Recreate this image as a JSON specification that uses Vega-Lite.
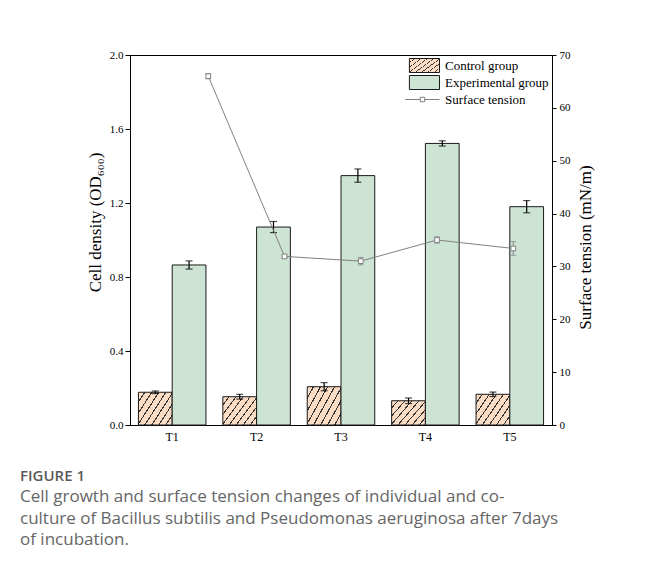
{
  "$schema": "https://vega.github.io/schema/vega-lite/v6.json",
  "width": 422,
  "height": 370,
  "autosize": {"type": "none"},
  "padding": {"left": 130, "top": 55, "right": 94, "bottom": 159},
  "background": "white",
  "config": {
    "view": {"stroke": "black", "strokeWidth": 1},
    "axis": {
      "labelFont": "Liberation Serif",
      "titleFont": "Liberation Serif",
      "labelFontSize": 11,
      "titleFontSize": 17,
      "titleFontWeight": "normal",
      "labelColor": "black",
      "titleColor": "black",
      "domainColor": "black",
      "tickColor": "black",
      "grid": false,
      "labelFlush": false
    },
    "legend": {
      "orient": "top-right",
      "offset": 3,
      "padding": 0,
      "labelFont": "Liberation Serif",
      "labelFontSize": 13,
      "labelColor": "black",
      "symbolSize": 196,
      "rowPadding": -2,
      "labelOffset": 5,
      "symbolStrokeWidth": 1,
      "symbolOpacity": 1
    }
  },
  "datasets": {
    "bars": [
      {"t": "T1", "group": "Control group", "od": 0.177, "err": 0.007},
      {"t": "T1", "group": "Experimental group", "od": 0.865, "err": 0.022},
      {"t": "T2", "group": "Control group", "od": 0.153, "err": 0.013},
      {"t": "T2", "group": "Experimental group", "od": 1.07, "err": 0.03},
      {"t": "T3", "group": "Control group", "od": 0.207, "err": 0.022},
      {"t": "T3", "group": "Experimental group", "od": 1.348, "err": 0.036},
      {"t": "T4", "group": "Control group", "od": 0.131, "err": 0.015},
      {"t": "T4", "group": "Experimental group", "od": 1.522, "err": 0.014},
      {"t": "T5", "group": "Control group", "od": 0.166, "err": 0.012},
      {"t": "T5", "group": "Experimental group", "od": 1.18, "err": 0.033}
    ],
    "tension": [
      {"t": "T1", "group": "Surface tension", "st": 66.0, "err": 0.5},
      {"t": "T2", "group": "Surface tension", "st": 31.9, "err": 0.3},
      {"t": "T3", "group": "Surface tension", "st": 31.0, "err": 0.7},
      {"t": "T4", "group": "Surface tension", "st": 35.0, "err": 0.6},
      {"t": "T5", "group": "Surface tension", "st": 33.4, "err": 1.3}
    ]
  },
  "title": {
    "text": "FIGURE 1",
    "subtitle": [
      "Cell growth and surface tension changes of individual and co-",
      "culture of Bacillus subtilis and Pseudomonas aeruginosa after 7days",
      "of incubation."
    ],
    "orient": "bottom",
    "anchor": "start",
    "frame": "group",
    "dx": -110,
    "offset": 27,
    "font": "Open Sans",
    "fontSize": 15,
    "fontWeight": 600,
    "color": "#5a5a5a",
    "subtitleFont": "Open Sans",
    "subtitleFontSize": 17,
    "subtitleColor": "#666666",
    "subtitleLineHeight": 21.5,
    "subtitlePadding": 5
  },
  "layer": [
    {
      "data": {"name": "bars"},
      "encoding": {
        "x": {
          "field": "t",
          "type": "nominal",
          "scale": {"paddingInner": 0.2, "paddingOuter": 0.1},
          "axis": {"title": null, "labelAngle": 0, "tickSize": 0, "labelPadding": 6, "labelFontSize": 12}
        },
        "xOffset": {
          "field": "group",
          "type": "nominal",
          "scale": {"domain": ["Control group", "Experimental group"]}
        },
        "y": {
          "field": "od",
          "type": "quantitative",
          "scale": {"domain": [0, 2]},
          "axis": {
            "title": "Cell density (OD₆₀₀)",
            "values": [0, 0.4, 0.8, 1.2, 1.6, 2.0],
            "format": ".1f",
            "tickSize": 5,
            "labelPadding": 2,
            "titlePadding": 5,
            "titleY": 167
          }
        }
      },
      "layer": [
        {
          "mark": {"type": "bar", "stroke": "#1a1a1a", "strokeWidth": 1},
          "encoding": {
            "fill": {
              "field": "group",
              "type": "nominal",
              "scale": {
                "domain": ["Control group", "Experimental group", "Surface tension"],
                "range": [
                  {"expr": "{gradient:'linear',x1:0,y1:0,x2:1.2,y2:0.75,stops:[{offset:0,color:'#fbdcc5'},{offset:0.1,color:'#fbdcc5'},{offset:0.1,color:'#333333'},{offset:0.122,color:'#333333'},{offset:0.122,color:'#fbdcc5'},{offset:0.225,color:'#fbdcc5'},{offset:0.225,color:'#333333'},{offset:0.247,color:'#333333'},{offset:0.247,color:'#fbdcc5'},{offset:0.35,color:'#fbdcc5'},{offset:0.35,color:'#333333'},{offset:0.372,color:'#333333'},{offset:0.372,color:'#fbdcc5'},{offset:0.475,color:'#fbdcc5'},{offset:0.475,color:'#333333'},{offset:0.497,color:'#333333'},{offset:0.497,color:'#fbdcc5'},{offset:0.6,color:'#fbdcc5'},{offset:0.6,color:'#333333'},{offset:0.622,color:'#333333'},{offset:0.622,color:'#fbdcc5'},{offset:0.725,color:'#fbdcc5'},{offset:0.725,color:'#333333'},{offset:0.747,color:'#333333'},{offset:0.747,color:'#fbdcc5'},{offset:0.85,color:'#fbdcc5'},{offset:0.85,color:'#333333'},{offset:0.872,color:'#333333'},{offset:0.872,color:'#fbdcc5'},{offset:1,color:'#fbdcc5'}]}"},
                  "#cde3d3",
                  "#ffffff"
                ]
              },
              "legend": {"title": null}
            }
          }
        },
        {
          "mark": {"type": "errorbar", "ticks": {"size": 7}, "color": "black", "thickness": 1.2},
          "encoding": {"yError": {"field": "err"}}
        }
      ]
    },
    {
      "data": {"name": "tension"},
      "encoding": {
        "x": {
          "field": "t",
          "type": "ordinal",
          "scale": {"type": "point", "padding": 0.767, "align": 0.669},
          "axis": null
        },
        "y": {
          "field": "st",
          "type": "quantitative",
          "scale": {"domain": [0, 70]},
          "axis": {
            "orient": "right",
            "title": "Surface tension (mN/m)",
            "titleAngle": 270,
            "titleBaseline": "top",
            "values": [0, 10, 20, 30, 40, 50, 60, 70],
            "tickSize": 4,
            "labelPadding": 3,
            "titlePadding": 7,
            "titleY": 192
          }
        }
      },
      "layer": [
        {"mark": {"type": "line", "color": "#808080", "strokeWidth": 1}},
        {
          "mark": {"type": "errorbar", "ticks": {"size": 6}, "color": "#808080", "thickness": 1},
          "encoding": {"yError": {"field": "err"}}
        },
        {
          "mark": {"type": "point", "shape": "square", "size": 22, "stroke": "#808080", "strokeWidth": 1, "opacity": 1, "filled": false},
          "encoding": {"fill": {"field": "group", "type": "nominal", "legend": null}}
        },
        {
          "mark": {"type": "point", "size": 0, "opacity": 1, "filled": true, "strokeWidth": 1},
          "encoding": {
            "fill": {"field": "group", "type": "nominal", "legend": {"title": null}},
            "shape": {
              "field": "group",
              "type": "nominal",
              "scale": {
                "domain": ["Control group", "Experimental group", "Surface tension"],
                "range": ["M-3.3,-1H1V1H-3.3Z", "M-3.3,-1H1V1H-3.3Z", "M-3.9,0H-1.75M-1.11,0H1M-1.75,-0.32H-1.11V0.32H-1.75Z"]
              },
              "legend": {"title": null}
            },
            "stroke": {
              "field": "group",
              "type": "nominal",
              "scale": {
                "domain": ["Control group", "Experimental group", "Surface tension"],
                "range": ["#1a1a1a", "#1a1a1a", "#808080"]
              },
              "legend": {"title": null}
            }
          }
        }
      ]
    }
  ],
  "resolve": {"scale": {"x": "independent", "y": "independent"}}
}
